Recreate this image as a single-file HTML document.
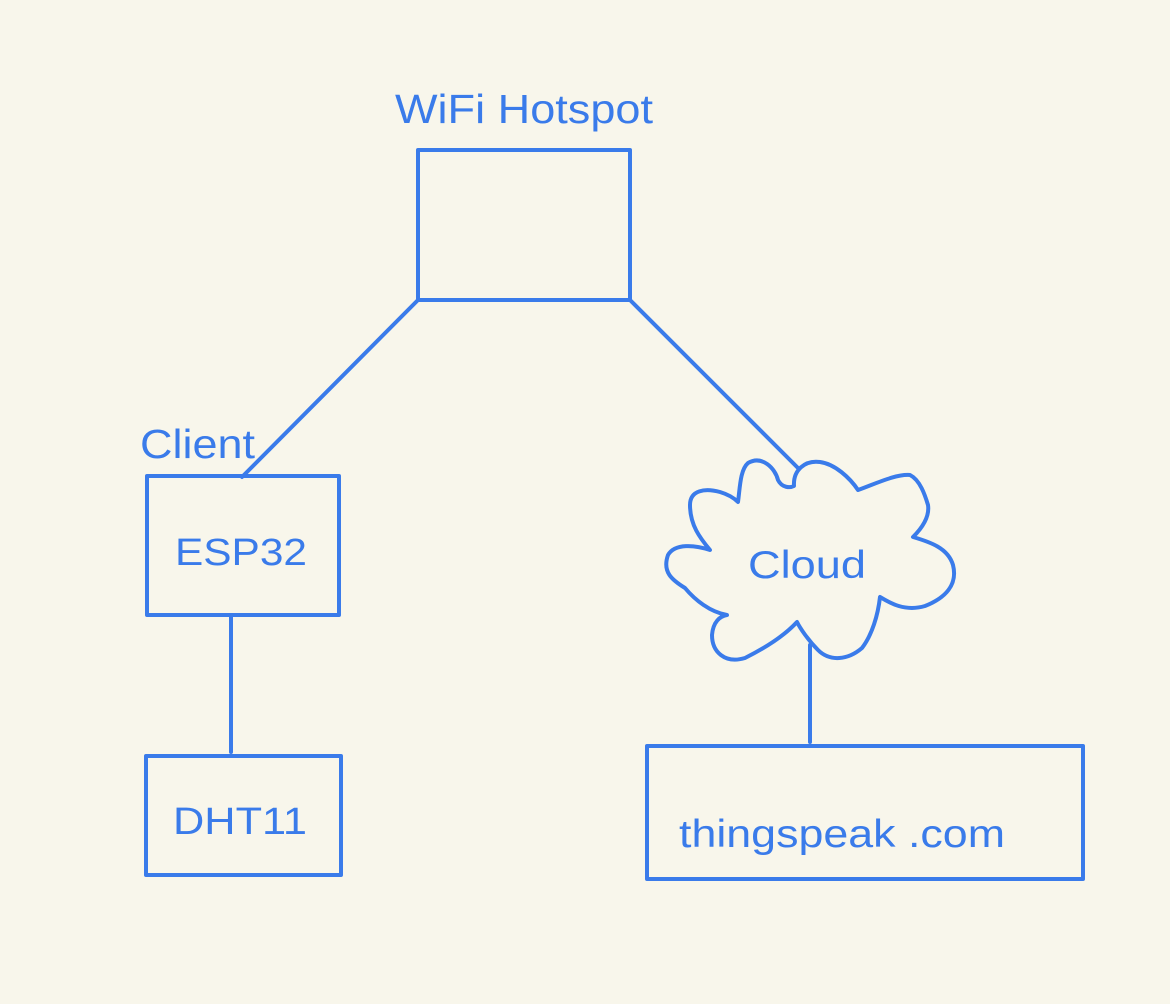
<!DOCTYPE html>
<html><head><style>
html,body{margin:0;padding:0;background:#f8f6eb;}
svg{display:block}
text{font-family:"Liberation Sans",sans-serif;fill:#3a7bea;}
</style></head><body>
<svg width="1170" height="1004" viewBox="0 0 1170 1004">
<rect width="1170" height="1004" fill="#f8f6eb"/>
<g stroke="#3a7bea" stroke-width="4" fill="none" stroke-linejoin="round" stroke-linecap="round">
<rect x="418" y="150" width="212" height="150"/>
<line x1="418" y1="300" x2="242" y2="477"/>
<line x1="630" y1="300" x2="798" y2="468"/>
<rect x="147" y="476" width="192" height="139"/>
<line x1="231" y1="615" x2="231" y2="752"/>
<rect x="146" y="756" width="195" height="119"/>
<rect x="647" y="746" width="436" height="133"/>
<line x1="810" y1="645" x2="810" y2="742"/>
<path d="M794,486 C793,470 805,460 820,462 C835,464 850,478 858,490 C875,484 895,474 910,475 C920,480 925,495 928,505 C930,518 920,530 913,537 C930,542 948,548 953,565 C958,585 945,598 925,606 C905,612 890,603 880,597 C878,615 872,635 862,648 C848,660 830,662 818,650 C808,640 800,628 797,622 C785,635 765,648 745,658 C725,664 712,652 712,635 C713,622 720,616 727,615 C710,612 695,600 685,588 C672,580 662,572 668,555 C675,543 695,545 710,550 C700,538 690,525 690,505 C690,490 705,488 720,492 C730,495 736,500 738,502 C740,488 740,470 748,463 C762,455 775,468 778,480 C782,488 790,488 794,486 Z"/>
</g>
<text x="395" y="123" font-size="41" textLength="258" lengthAdjust="spacingAndGlyphs">WiFi Hotspot</text>
<text x="140" y="458" font-size="41" textLength="115" lengthAdjust="spacingAndGlyphs">Client</text>
<text x="175" y="565" font-size="38" textLength="132" lengthAdjust="spacingAndGlyphs">ESP32</text>
<text x="173" y="834" font-size="38" textLength="134" lengthAdjust="spacingAndGlyphs">DHT11</text>
<text x="748" y="578" font-size="39" textLength="118" lengthAdjust="spacingAndGlyphs">Cloud</text>
<text x="679" y="847" font-size="39" textLength="326" lengthAdjust="spacingAndGlyphs">thingspeak .com</text>
</svg>
</body></html>
